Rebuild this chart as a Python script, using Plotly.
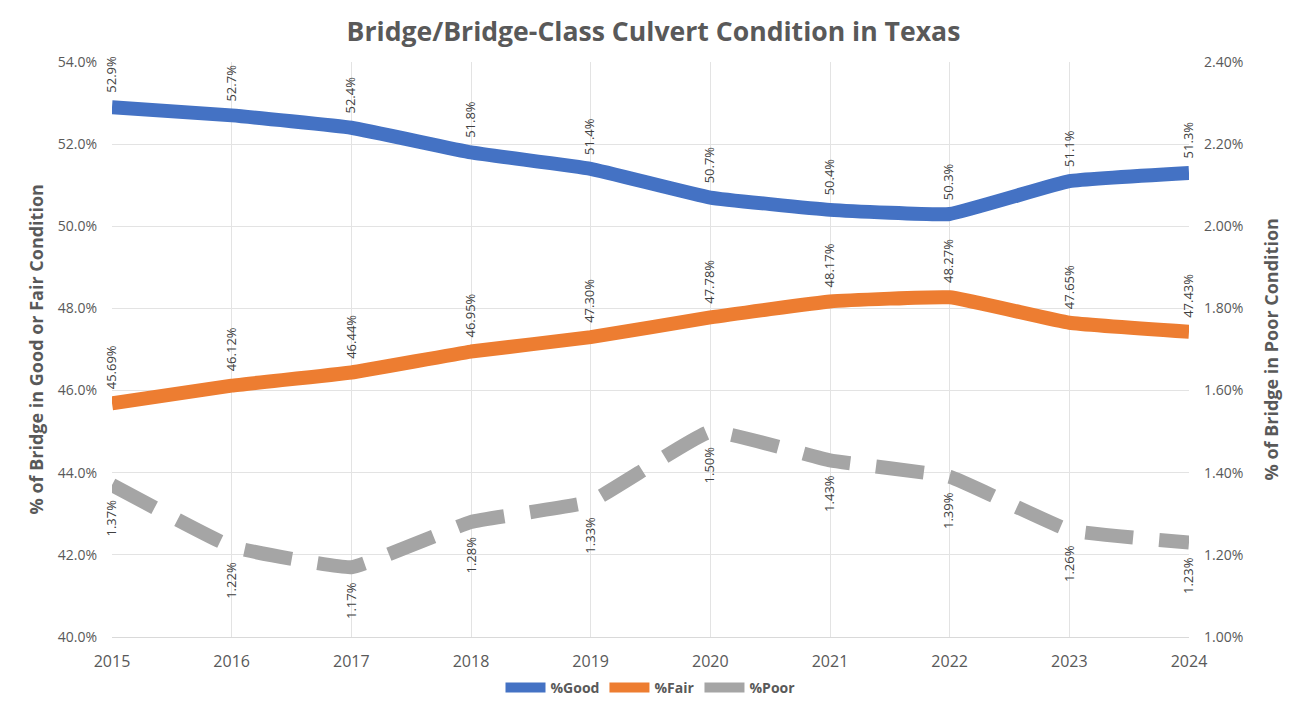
import plotly.graph_objects as go

years = [2015, 2016, 2017, 2018, 2019, 2020, 2021, 2022, 2023, 2024]
good = [52.9, 52.7, 52.4, 51.8, 51.4, 50.7, 50.4, 50.3, 51.1, 51.3]
fair = [45.69, 46.12, 46.44, 46.95, 47.30, 47.78, 48.17, 48.27, 47.65, 47.43]
poor = [1.37, 1.22, 1.17, 1.28, 1.33, 1.50, 1.43, 1.39, 1.26, 1.23]

left_ticks = [40, 42, 44, 46, 48, 50, 52, 54]
right_ticks = [1.0, 1.2, 1.4, 1.6, 1.8, 2.0, 2.2, 2.4]

GRAY = "#595959"
LABEL = "#404040"

fig = go.Figure()

fig.add_trace(go.Scatter(
    x=years, y=good, name="<b>%Good</b>", mode="lines",
    line=dict(color="#4472C4", width=14, shape="spline", smoothing=0.3),
))
fig.add_trace(go.Scatter(
    x=years, y=fair, name="<b>%Fair</b>", mode="lines",
    line=dict(color="#ED7D31", width=14, shape="spline", smoothing=0.3),
))
fig.add_trace(go.Scatter(
    x=years, y=poor, name="<b>%Poor</b>", mode="lines", yaxis="y2",
    line=dict(color="#A5A5A5", width=14, shape="spline", smoothing=0.3,
              dash="48px,26px"),
))

annotations = []
# data labels, rotated like the Excel ones
for x, v in zip(years, good):
    annotations.append(dict(x=x, y=v, xref="x", yref="y", text=f"{v:.1f}%",
                            textangle=-90, showarrow=False, yanchor="bottom",
                            yshift=12, xshift=-1, font=dict(size=13, color=LABEL)))
for x, v in zip(years, fair):
    annotations.append(dict(x=x, y=v, xref="x", yref="y", text=f"{v:.2f}%",
                            textangle=-90, showarrow=False, yanchor="bottom",
                            yshift=12, xshift=-1, font=dict(size=13, color=LABEL)))
for x, v in zip(years, poor):
    annotations.append(dict(x=x, y=v, xref="x", yref="y2", text=f"{v:.2f}%",
                            textangle=-90, showarrow=False, yanchor="top",
                            yshift=-13, xshift=-1, font=dict(size=13, color=LABEL)))

# axis titles as annotations so they can sit further out
annotations.append(dict(x=0, y=0.5, xref="paper", yref="paper", xshift=-77,
                        xanchor="center", yanchor="middle",
                        text="<b>% of Bridge in Good or Fair Condition</b>",
                        textangle=-90, showarrow=False,
                        font=dict(size=18, color=GRAY)))
annotations.append(dict(x=1, y=0.5, xref="paper", yref="paper", xshift=81,
                        xanchor="center", yanchor="middle",
                        text="<b>% of Bridge in Poor Condition</b>",
                        textangle=-90, showarrow=False,
                        font=dict(size=18, color=GRAY)))

# page body has an 8px margin, so the figure is placed 8px right/down
fig.update_layout(
    width=1291, height=701,
    paper_bgcolor="white", plot_bgcolor="white",
    font=dict(family="Open Sans", color=GRAY),
    title=dict(text="<b>Bridge/Bridge-Class Culvert Condition in Texas</b>",
               x=0.5, xanchor="center", yref="container", y=0.966,
               yanchor="middle", font=dict(size=26.6, color=GRAY)),
    margin=dict(l=104, r=110, t=54, b=72, autoexpand=False),
    xaxis=dict(
        range=[2015, 2024], tickmode="array", tickvals=years,
        showgrid=True, gridcolor="#E3E3E3", gridwidth=1,
        zeroline=False, showline=True, linecolor="#D9D9D9",
        tickfont=dict(size=16, color=GRAY), ticks="", ticklabelstandoff=10,
    ),
    yaxis=dict(
        range=[40, 54], tickmode="array", tickvals=left_ticks,
        ticktext=[f"{t:.1f}%" for t in left_ticks],
        showgrid=True, gridcolor="#E3E3E3", zeroline=False,
        tickfont=dict(size=14, color=GRAY), ticklabelstandoff=14,
    ),
    yaxis2=dict(
        range=[1.0, 2.4], tickmode="array", tickvals=right_ticks,
        ticktext=[f"{t:.2f}%" for t in right_ticks],
        overlaying="y", side="right", showgrid=False, zeroline=False,
        tickfont=dict(size=14, color=GRAY), ticklabelstandoff=14,
    ),
    legend=dict(orientation="h", x=0.5, xanchor="center", yref="container",
                y=0.03, yanchor="middle", font=dict(size=14, color=GRAY),
                itemwidth=40, tracegroupgap=0),
    annotations=annotations,
)

fig.write_html("out.html")
